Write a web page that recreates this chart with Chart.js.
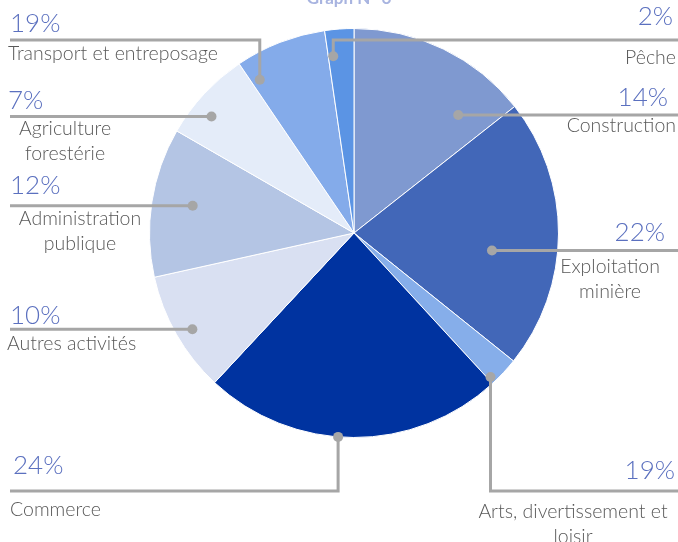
<!DOCTYPE html>
<html>
<head>
<meta charset="utf-8">
<script src="https://cdn.jsdelivr.net/npm/chart.js@4.4.0/dist/chart.umd.min.js"></script>
<style>
  html,body{margin:0;padding:0;background:#fff;}
  #wrap{width:678px;height:542px;position:relative;}
</style>
</head>
<body>
<div id="wrap"><canvas id="c" width="678" height="542"></canvas></div>
<script>
// ---- data ----
const sectors = ["Construction", "Exploitation minière", "Arts, divertissement et loisir", "Commerce",
  "Autres activités", "Administration publique", "Agriculture forestérie", "Transport et entreposage", "Pêche"];
const sliceValues = [14.4, 21.4, 2.4, 23.8, 9.6, 11.8, 7.2, 7.2, 2.3];
const printedPct = ["14%", "22%", "19%", "24%", "10%", "12%", "7%", "19%", "2%"];
const labelLines = [["Construction"], ["Exploitation", "minière"], ["Arts, divertissement et", "loisir"], ["Commerce"],
  ["Autres activités"], ["Administration", "publique"], ["Agriculture", "forestérie"], ["Transport et entreposage"], ["Pêche"]];
const titleText = "Graph N° 6";

// ---- styles ----
const colors = ["#7F99D0", "#4267B8", "#86AEEA", "#0033A0", "#D9E0F2", "#B4C5E4", "#E4ECF9", "#84ABEA", "#5B94E4"];
const pctColor = "#5B70BF";
const txtColor = "#595959";
const lineColor = "#A6A6A6";

// per-slice leader layout: anchor (fraction along slice, fraction of radius), route, text placement
const layout = [
  {f:0.80, r:0.77, type:"h", side:"R", pct:{x:668,y:98,a:"right"}, lab:{x:676,y:126,a:"right"}},
  {f:0.59, r:0.68, type:"h", side:"R", pct:{x:665,y:233,a:"right"}, lab:{x:610,y:267,a:"center"}},
  {f:0.90, r:0.97, type:"v", side:"R", elbowY:491, pct:{x:675,y:471,a:"right"}, lab:{x:573,y:512,a:"center"}},
  {f:0.55, r:1.00, type:"v", side:"L", elbowY:491, pct:{x:13,y:466,a:"left"}, lab:{x:10,y:510,a:"left"}},
  {f:0.47, r:0.92, type:"h", side:"L", pct:{x:10,y:316,a:"left"}, lab:{x:7,y:344,a:"left"}},
  {f:0.52, r:0.80, type:"h", side:"L", pct:{x:10,y:186,a:"left"}, lab:{x:80,y:219,a:"center"}},
  {f:0.36, r:0.90, type:"h", side:"L", pct:{x:8,y:101,a:"left"}, lab:{x:65,y:129,a:"center"}},
  {f:0.10, r:0.88, type:"v", side:"L", elbowY:40, pct:{x:10,y:24,a:"left"}, lab:{x:8,y:54,a:"left"}},
  {f:0.19, r:0.87, type:"v", side:"R", elbowY:40, pct:{x:673,y:17,a:"right"}, lab:{x:676,y:58,a:"right"}}
];

const leaderPlugin = {
  id: "leaders",
  afterDraw(chart) {
    const ctx = chart.ctx;
    const meta = chart.getDatasetMeta(0);
    const W = chart.width;
    ctx.save();
    // title (partly off the top)
    ctx.font = "bold 17px Lato, 'Open Sans', sans-serif";
    ctx.fillStyle = "#A8B4E0";
    ctx.textAlign = "center";
    ctx.textBaseline = "alphabetic";
    ctx.fillText(titleText, 349, 4);

    meta.data.forEach((arc, i) => {
      const p = arc.getProps(["x", "y", "startAngle", "endAngle", "outerRadius"], true);
      const L = layout[i];
      const ang = p.startAngle + L.f * (p.endAngle - p.startAngle);
      const ax = p.x + Math.cos(ang) * p.outerRadius * L.r;
      const ay = p.y + Math.sin(ang) * p.outerRadius * L.r;
      const edgeX = L.side === "R" ? W : 10;
      ctx.strokeStyle = lineColor;
      ctx.lineWidth = 3;
      ctx.beginPath();
      ctx.moveTo(ax, ay);
      if (L.type === "h") {
        ctx.lineTo(edgeX, ay);
      } else {
        ctx.lineTo(ax, L.elbowY);
        ctx.lineTo(edgeX, L.elbowY);
      }
      ctx.stroke();
      ctx.fillStyle = lineColor;
      ctx.beginPath();
      ctx.arc(ax, ay, 5, 0, Math.PI * 2);
      ctx.fill();

      ctx.textBaseline = "middle";
      ctx.font = "300 26px Lato, 'Open Sans', sans-serif";
      ctx.fillStyle = pctColor;
      ctx.textAlign = L.pct.a;
      ctx.fillText(printedPct[i], L.pct.x, L.pct.y);

      ctx.font = "300 19.5px Lato, 'Open Sans', sans-serif";
      ctx.fillStyle = txtColor;
      ctx.textAlign = L.lab.a;
      labelLines[i].forEach((t, k) => ctx.fillText(t, L.lab.x, L.lab.y + k * 25));
    });
    ctx.restore();
  }
};

new Chart(document.getElementById("c"), {
  type: "pie",
  data: {
    labels: sectors,
    datasets: [{
      data: sliceValues,
      backgroundColor: colors,
      borderColor: "#ffffff",
      borderWidth: 1
    }]
  },
  options: {
    responsive: false,
    animation: false,
    layout: { padding: { top: 28, bottom: 104, left: 148, right: 118 } },
    plugins: { legend: { display: false }, tooltip: { enabled: false }, title: { display: false } }
  },
  plugins: [leaderPlugin]
});
</script>
</body>
</html>
